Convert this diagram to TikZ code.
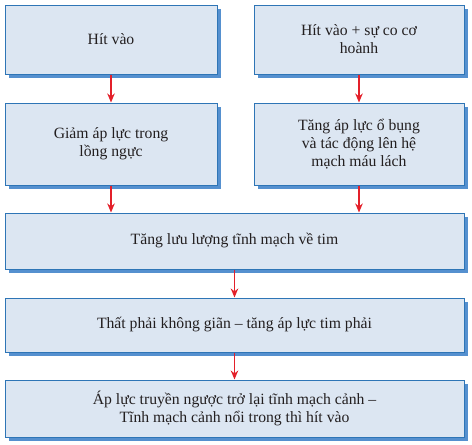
\documentclass[tikz,border=0pt]{standalone}
\usepackage{fontspec}
\setmainfont{Liberation Serif}
\usetikzlibrary{shadows,arrows.meta}
\definecolor{boxfill}{HTML}{DCE6F2}
\definecolor{boxline}{HTML}{2E75B6}
\definecolor{shadowc}{HTML}{5590CF}
\definecolor{arrred}{HTML}{E3202A}
\definecolor{txt}{HTML}{231F20}
\tikzset{
  box/.style={draw=boxline, line width=1pt, fill=boxfill, inner sep=0pt, align=center,
    text=txt, font=\fontsize{15.7}{18}\selectfont,
    general shadow={fill=shadowc, shadow xshift=3.5pt, shadow yshift=-3.5pt}},
  arr/.style={draw=arrred, line width=1.5pt, -{Stealth[length=9pt,width=7.5pt]}}
}
\begin{document}
\begin{tikzpicture}
\useasboundingbox (0,0) rectangle (472pt,-445pt);
\node[box, minimum width=212pt, minimum height=69pt] (b1) at (111pt,-39.5pt) {Hít vào};
\node[box, minimum width=210pt, minimum height=69pt] (b2) at (359pt,-39.5pt) {Hít vào + sự co cơ\\hoành};
\node[box, minimum width=212pt, minimum height=82pt] (b3) at (111pt,-144pt) {Giảm áp lực trong\\lồng ngực};
\node[box, minimum width=210pt, minimum height=82pt] (b4) at (359pt,-144pt) {Tăng áp lực ổ bụng\\và tác động lên hệ\\mạch máu lách};
\node[box, minimum width=459pt, minimum height=56pt] (b5) at (234.5pt,-241pt) {Tăng lưu lượng tĩnh mạch về tim};
\node[box, minimum width=459pt, minimum height=54pt] (b6) at (234.5pt,-325pt) {Thất phải không giãn – tăng áp lực tim phải};
\node[box, minimum width=459pt, minimum height=57pt] (b7) at (234.5pt,-408.5pt) {Áp lực truyền ngược trở lại tĩnh mạch cảnh –\\Tĩnh mạch cảnh nổi trong thì hít vào};
\draw[arr] (b1.south) -- (b3.north);
\draw[arr] (b2.south) -- (b4.north);
\draw[arr] (b3.south) -- (b3.south |- b5.north);
\draw[arr] (b4.south) -- (b4.south |- b5.north);
\draw[arr] (b5.south) -- (b6.north);
\draw[arr] (b6.south) -- (b7.north);
\end{tikzpicture}
\end{document}
